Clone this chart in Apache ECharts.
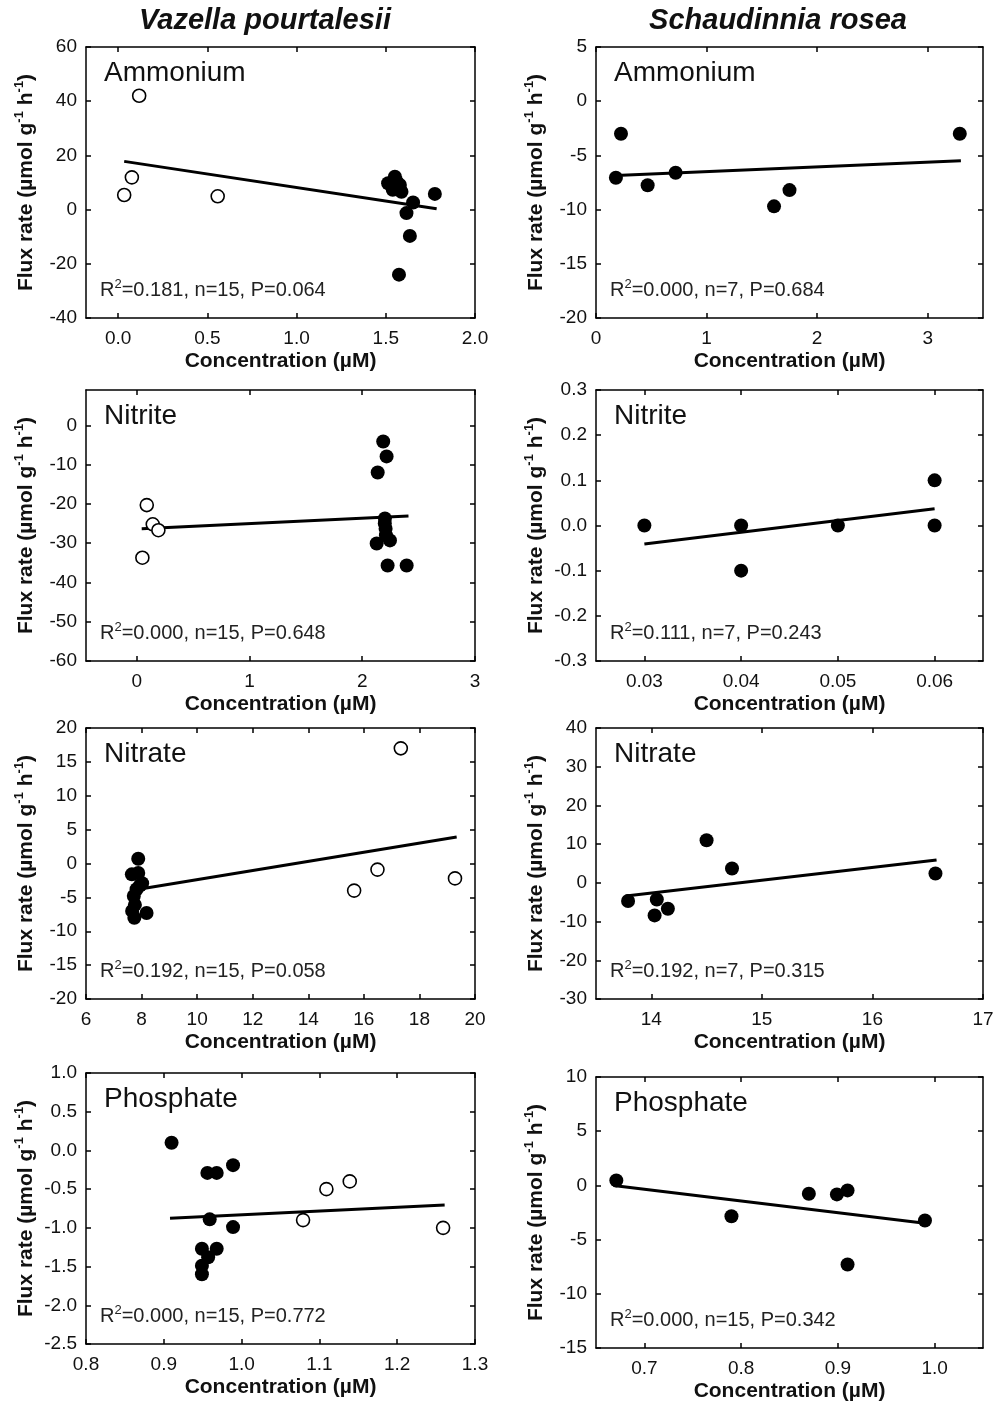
<!DOCTYPE html>
<html>
<head>
<meta charset="UTF-8">
<title>Flux rate vs concentration</title>
<script src="https://cdn.jsdelivr.net/npm/echarts@6/dist/echarts.min.js"></script>
<style>
  html, body { margin: 0; padding: 0; background: #fff; }
  #chart { width: 997px; height: 1405px; }
</style>
</head>
<body>
<div id="chart"></div>
<script>
// column titles
const speciesNames = ['Vazella pourtalesii', 'Schaudinnia rosea'];
const nutrientNames = ['Ammonium', 'Nitrite', 'Nitrate', 'Phosphate'];

// Vazella pourtalesii  [concentration, flux rate]
const vpAmmoniumOpen = [[0.034, 5.4], [0.077, 11.9], [0.118, 42.0], [0.558, 4.9]];
const vpAmmoniumFilled = [[1.513, 9.7], [1.551, 12.1], [1.539, 7.3], [1.560, 10.5], [1.579, 9.1], [1.588, 6.6],
  [1.653, 2.6], [1.616, -1.3], [1.635, -9.7], [1.574, -24.0], [1.775, 5.8]];
const vpAmmoniumFit = [[0.034, 17.8], [1.785, 0.3]];

const vpNitriteOpen = [[0.089, -20.3], [0.142, -25.2], [0.192, -26.7], [0.05, -33.7]];
const vpNitriteFilled = [[2.186, -4.1], [2.216, -7.9], [2.137, -12.0], [2.201, -23.7], [2.20, -25.0], [2.207, -26.3],
  [2.21, -28.0], [2.128, -30.1], [2.246, -29.3], [2.225, -35.7], [2.394, -35.7]];
const vpNitriteFit = [[0.044, -26.3], [2.41, -23.1]];

const vpNitrateOpen = [[17.33, 17.0], [16.49, -0.9], [15.65, -4.0], [19.28, -2.2]];
const vpNitrateFilled = [[7.88, 0.7], [7.65, -1.6], [7.88, -1.4], [8.02, -2.9], [7.82, -3.8], [7.72, -4.8],
  [7.76, -6.1], [7.66, -7.0], [7.74, -8.0], [8.18, -7.3], [7.95, -3.2]];
const vpNitrateFit = [[8.06, -3.7], [19.34, 3.9]];

const vpPhosphateOpen = [[1.079, -0.90], [1.109, -0.50], [1.139, -0.40], [1.259, -1.0]];
const vpPhosphateFilled = [[0.91, 0.10], [0.956, -0.29], [0.968, -0.29], [0.989, -0.19], [0.959, -0.89], [0.989, -0.99],
  [0.949, -1.27], [0.968, -1.27], [0.957, -1.38], [0.949, -1.49], [0.949, -1.60]];
const vpPhosphateFit = [[0.908, -0.877], [1.261, -0.705]];

// Schaudinnia rosea
const srAmmonium = [[0.18, -7.06], [0.226, -3.0], [0.467, -7.76], [0.72, -6.6], [1.61, -9.7], [1.75, -8.2], [3.29, -3.0]];
const srAmmoniumFit = [[0.18, -6.85], [3.30, -5.5]];
const srNitrite = [[0.03, 0], [0.04, 0], [0.04, -0.1], [0.05, 0], [0.06, 0.1], [0.06, 0]];
const srNitriteFit = [[0.03, -0.041], [0.06, 0.037]];
const srNitrate = [[13.79, -4.7], [14.05, -4.3], [14.03, -8.4], [14.15, -6.7], [14.50, 11.0], [14.73, 3.7], [16.57, 2.4]];
const srNitrateFit = [[13.77, -3.4], [16.58, 5.9]];
const srPhosphate = [[0.671, 0.46], [0.790, -2.84], [0.870, -0.77], [0.899, -0.83], [0.910, -0.46], [0.910, -7.3], [0.990, -3.24]];
const srPhosphateFit = [[0.668, 0], [0.99, -3.49]];

// regression stats: R2, n, P
const vpStats = [['0.181', 15, '0.064'], ['0.000', 15, '0.648'], ['0.192', 15, '0.058'], ['0.000', 15, '0.772']];
const srStats = [['0.000', 7, '0.684'], ['0.111', 7, '0.243'], ['0.192', 7, '0.315'], ['0.000', 15, '0.342']];

// axis ranges and tick labels
const vpXRange = [[-0.18, 2.0], [-0.45, 3], [6, 20], [0.8, 1.3]];
const vpXTicks = [[0, 0.5, 1, 1.5, 2], [0, 1, 2, 3], [6, 8, 10, 12, 14, 16, 18, 20], [0.8, 0.9, 1.0, 1.1, 1.2, 1.3]];
const vpYRange = [[-40, 60], [-60, 9], [-20, 20], [-2.5, 1.0]];
const vpYTicks = [[-40, -20, 0, 20, 40, 60], [-60, -50, -40, -30, -20, -10, 0], [-20, -15, -10, -5, 0, 5, 10, 15, 20],
  [-2.5, -2.0, -1.5, -1.0, -0.5, 0, 0.5, 1.0]];
const srXRange = [[0, 3.5], [0.025, 0.065], [13.5, 17], [0.65, 1.05]];
const srXTicks = [[0, 1, 2, 3], [0.03, 0.04, 0.05, 0.06], [14, 15, 16, 17], [0.7, 0.8, 0.9, 1.0]];
const srYRange = [[-20, 5], [-0.3, 0.3], [-30, 40], [-15, 10]];
const srYTicks = [[-20, -15, -10, -5, 0, 5], [-0.3, -0.2, -0.1, 0, 0.1, 0.2, 0.3], [-30, -20, -10, 0, 10, 20, 30, 40],
  [-15, -10, -5, 0, 5, 10]];
const vpXDec = [1, 0, 0, 1], vpYDec = [0, 0, 0, 1];
const srXDec = [0, 2, 0, 1], srYDec = [0, 1, 0, 0];

const FONT = '"Liberation Sans", Arial, Helvetica, sans-serif';
const INK = '#111';

// plot boxes in pixels
const colLeft = [86, 596];
const colWidth = [389, 387];
const rowTops = [[47, 390, 728, 1073], [47, 390, 728, 1077]];
const plotH = 271;

const panels = [];
for (let r = 0; r < 4; r++) {
  panels.push({ col: 0, row: r, open: [vpAmmoniumOpen, vpNitriteOpen, vpNitrateOpen, vpPhosphateOpen][r],
    filled: [vpAmmoniumFilled, vpNitriteFilled, vpNitrateFilled, vpPhosphateFilled][r],
    fit: [vpAmmoniumFit, vpNitriteFit, vpNitrateFit, vpPhosphateFit][r],
    xr: vpXRange[r], xt: vpXTicks[r], xd: vpXDec[r], yr: vpYRange[r], yt: vpYTicks[r], yd: vpYDec[r], st: vpStats[r] });
}
for (let r = 0; r < 4; r++) {
  panels.push({ col: 1, row: r, open: [],
    filled: [srAmmonium, srNitrite, srNitrate, srPhosphate][r],
    fit: [srAmmoniumFit, srNitriteFit, srNitrateFit, srPhosphateFit][r],
    xr: srXRange[r], xt: srXTicks[r], xd: srXDec[r], yr: srYRange[r], yt: srYTicks[r], yd: srYDec[r], st: srStats[r] });
}

const lineStyle = { color: '#000', width: 1.5 };
const grid = [], xAxis = [], yAxis = [], series = [], graphic = [];

panels.forEach(function (p, i) {
  const left = colLeft[p.col], top = rowTops[p.col][p.row], width = colWidth[p.col];
  grid.push({ left: left, top: top, width: width, height: plotH });

  const tickX = { inside: true, length: 5, customValues: p.xt, lineStyle: lineStyle };
  const tickY = { inside: true, length: 5, customValues: p.yt, lineStyle: lineStyle };
  xAxis.push({
    type: 'value', gridIndex: i, position: 'bottom', min: p.xr[0], max: p.xr[1],
    axisLine: { onZero: false, lineStyle: lineStyle }, axisTick: tickX, splitLine: { show: false },
    axisLabel: { customValues: p.xt, formatter: function (v) { return v.toFixed(p.xd); },
      fontSize: 19, fontFamily: FONT, color: INK, margin: 11 },
    name: 'Concentration (µM)', nameLocation: 'middle', nameGap: 33,
    nameTextStyle: { fontSize: 21, fontWeight: 'bold', fontFamily: FONT, color: INK }
  });
  xAxis.push({
    type: 'value', gridIndex: i, position: 'top', min: p.xr[0], max: p.xr[1],
    axisLine: { onZero: false, lineStyle: lineStyle }, axisTick: tickX,
    axisLabel: { show: false }, splitLine: { show: false }
  });
  yAxis.push({
    type: 'value', gridIndex: i, position: 'left', min: p.yr[0], max: p.yr[1],
    axisLine: { onZero: false, lineStyle: lineStyle }, axisTick: tickY, splitLine: { show: false },
    axisLabel: { customValues: p.yt, formatter: function (v) { return v.toFixed(p.yd); },
      fontSize: 19, fontFamily: FONT, color: INK, margin: 9 },
    name: '{b|Flux rate (µmol g}{s|-1}{b| h}{s|-1}{b|)}', nameLocation: 'middle', nameGap: 46,
    nameTextStyle: { fontSize: 21, fontWeight: 'bold', fontFamily: FONT, color: INK,
      rich: {
        b: { fontSize: 21, fontWeight: 'bold', fontFamily: FONT, color: INK, lineHeight: 27 },
        s: { fontSize: 13, fontWeight: 'bold', fontFamily: FONT, color: INK, verticalAlign: 'top' }
      } }
  });
  yAxis.push({
    type: 'value', gridIndex: i, position: 'right', min: p.yr[0], max: p.yr[1],
    axisLine: { onZero: false, lineStyle: lineStyle }, axisTick: tickY,
    axisLabel: { show: false }, splitLine: { show: false }
  });

  series.push({
    type: 'line', xAxisIndex: 2 * i, yAxisIndex: 2 * i, data: p.fit, symbol: 'none',
    lineStyle: { color: '#000', width: 3 }, silent: true, z: 2
  });
  if (p.open.length) {
    series.push({
      type: 'scatter', xAxisIndex: 2 * i, yAxisIndex: 2 * i, data: p.open, symbolSize: 13,
      itemStyle: { color: '#fff', borderColor: '#000', borderWidth: 1.6, opacity: 1 }, z: 3
    });
  }
  series.push({
    type: 'scatter', xAxisIndex: 2 * i, yAxisIndex: 2 * i, data: p.filled, symbolSize: 14,
    itemStyle: { color: '#000', opacity: 1 }, z: 4
  });

  graphic.push({
    type: 'text', x: left + 18, y: top + 26,
    style: { text: nutrientNames[p.row], fontSize: 28, fontFamily: FONT, fill: INK, verticalAlign: 'middle' }
  });
  graphic.push({
    type: 'text', x: left + 14, y: top + plotH - 28,
    style: {
      text: '{n|R}{s|2}{n|=' + p.st[0] + ', n=' + p.st[1] + ', P=' + p.st[2] + '}',
      verticalAlign: 'middle',
      rich: {
        n: { fontSize: 20, fontFamily: FONT, fill: '#222', lineHeight: 25 },
        s: { fontSize: 13, fontFamily: FONT, fill: '#222', verticalAlign: 'top' }
      }
    }
  });
});

graphic.push({
  type: 'text', x: 265, y: 21,
  style: { text: speciesNames[0], fontSize: 29, fontWeight: 'bold', fontStyle: 'italic', fontFamily: FONT,
    fill: INK, align: 'center', verticalAlign: 'middle' }
});
graphic.push({
  type: 'text', x: 778, y: 21,
  style: { text: speciesNames[1], fontSize: 29, fontWeight: 'bold', fontStyle: 'italic', fontFamily: FONT,
    fill: INK, align: 'center', verticalAlign: 'middle' }
});

const chart = echarts.init(document.getElementById('chart'), null, { renderer: 'canvas' });
chart.setOption({
  animation: false,
  backgroundColor: '#fff',
  grid: grid,
  xAxis: xAxis,
  yAxis: yAxis,
  series: series,
  graphic: graphic
});
</script>
</body>
</html>
